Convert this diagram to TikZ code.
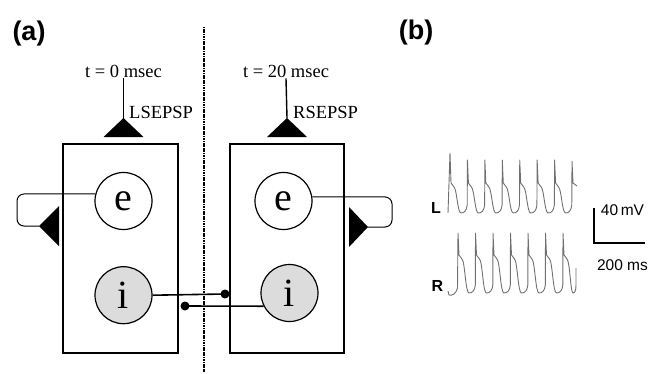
\documentclass[tikz,border=0pt]{standalone}
\usepackage{fontspec}
\setmainfont{Liberation Serif}
\setsansfont{Liberation Sans}
\usepackage{tikz}
\usetikzlibrary{calc,positioning}
\definecolor{cellfill}{HTML}{DCDCDC}
\definecolor{tracegray}{HTML}{707070}

\begin{document}
\begin{tikzpicture}[x=1pt, y=-1pt,
      cell/.style={circle, draw, line width=1.2pt, minimum size=57pt, inner sep=0pt, font=\fontsize{40}{40}\selectfont},
      panel/.style={draw, line width=2pt, inner sep=0pt},
      lbl/.style={font=\fontsize{18.5}{20}\selectfont, inner sep=1pt},
      tag/.style={font=\sffamily\bfseries\fontsize{27}{30}\selectfont, inner sep=0pt},
      side/.style={font=\sffamily\bfseries\fontsize{16}{16}\selectfont, inner sep=0pt},
      scale text/.style={font=\sffamily\fontsize{15.5}{16}\selectfont, inner sep=0pt},
      selfloop/.style={line width=1pt, rounded corners=7pt},
      inh/.style={line width=1.6pt},
      trace/.style={draw=tracegray, line width=0.9pt, line join=round}
    ]
      \useasboundingbox (0,0) rectangle (659,373);
      % panel (a)
      \node[tag] (a) at (29,34) {(a)};
      \draw[line width=1.3pt, dash pattern=on 1.2pt off 0.5pt] (204,27) -- (204,372);
      \node[panel, minimum width=115pt, minimum height=209pt] (boxL) at (120.5,248.5) {};
      \node[panel, minimum width=114pt, minimum height=209pt] (boxR) at (287,248.5) {};
      \node[cell] (eL) at (123.5,201) {e};
      \node[cell, fill=cellfill, below=36pt of eL] (iL) {i};
      \node[cell] (eR) at (283.5,201) {e};
      \node[cell, fill=cellfill] (iR) at (289.5,293) {i};
      % inputs
      \node[lbl] (tL) at (123.5,71) {t = 0 msec};
      \node[lbl] (tR) at (286,71) {t = 20 msec};
      \node[lbl, anchor=west] (sL) at (128,112) {LSEPSP};
      \node[lbl, anchor=west] (sR) at (292,112) {RSEPSP};
      \coordinate (inL) at (123.5,118);
      \coordinate (inR) at (287,118);
      \draw[line width=1.4pt] (tL.south) -- (inL);
      \draw[line width=1.4pt] (tR.south) -- (inR);
      \fill (inL) -- ++(-20,19) -- ++(40,0) -- cycle;
      \fill (inR) -- ++(-20,19) -- ++(40,0) -- cycle;
      % self excitation
      \coordinate (loopL) at (17,226);
      \coordinate (synL) at (39,226);
      \coordinate (loopR) at (392,227);
      \coordinate (synR) at (368,227);
      \draw[selfloop] (eL.166) -| (loopL) -- (synL);
      \draw[selfloop] (eR.8) -| (loopR) -- (synR);
      \fill (synL) -- ++(20,-20) -- ++(0,40) -- cycle;
      \fill (synR) -- ++(-19,-20) -- ++(0,40) -- cycle;
      % mutual inhibition
      \coordinate (dotR) at (225,294);
      \coordinate (dotL) at (185,306);
      \draw[inh] (iL.east) -- (dotR);
      \draw[inh] (iR.207) -- (dotL);
      \fill (dotR) circle (4.5);
      \fill (dotL) circle (4.5);
      % panel (b)
      \node[tag] (b) at (416,33) {(b)};
      \node[side] (labL) at (436,207.5) {L};
      \node[side] (labR) at (437.5,285.5) {R};
      \draw[trace] (448,213) -- (450,153) -- (451,183) -- (454,187)
        .. controls (457,190) and (457.5,213) .. (461,213)
        .. controls (464,213) and (466.6,211) .. (467.2,205)
        \foreach \k [evaluate=\k as \s using 450+17.43*\k] in {1,...,6} {
          -- (\s,160) -- (\s+1,183) -- (\s+4,187)
          .. controls (\s+7,190) and (\s+7.5,213) .. (\s+11,213)
          .. controls (\s+14,213) and (\s+16.6,211) .. (\s+17.2,205)
        } -- (572,161) -- (573,183) -- (577,186);
      \draw[trace] (448,291) -- (449,295) .. controls (452,296) and (456,294) .. (457.5,288)
        \foreach \k [evaluate=\k as \s using 458+17.5*\k] in {0,...,5} {
          -- (\s,233) -- (\s+1,255) -- (\s+4,259)
          .. controls (\s+7,262) and (\s+7.5,293) .. (\s+11,293)
          .. controls (\s+14,293) and (\s+16.8,291) .. (\s+17.3,285)
        } -- (563,233) -- (564,255) -- (567,259)
        .. controls (570,262) and (570.5,293) .. (573,293)
        .. controls (575,293) and (576,290) .. (576,285) -- (576,268);
      % scale bar
      \coordinate (sbTop) at (594,208);
      \coordinate (sbEnd) at (645,243);
      \draw[line width=2.4pt] (sbTop) |- (sbEnd);
      \node[scale text] (mv) at (622.5,210.5) {40\,mV};
      \node[scale text] (ms) at (622.5,265) {200 ms};
    \end{tikzpicture}
\end{document}
